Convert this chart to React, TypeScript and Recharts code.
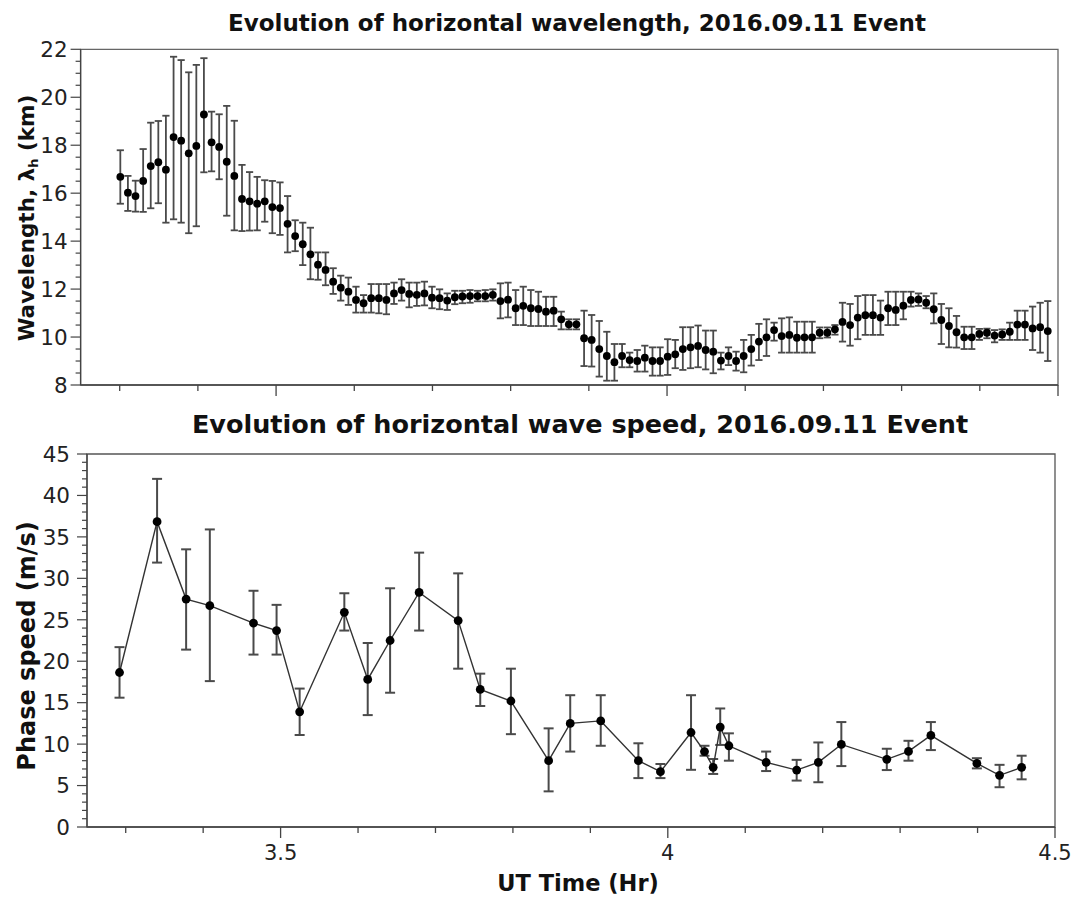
import React from 'react';
import { ScatterChart, Scatter, XAxis, YAxis, ErrorBar, ReferenceArea } from 'recharts';

const FONT = '"DejaVu Sans", Verdana, sans-serif';

// ---- Top chart: horizontal wavelength (km) ----
const wlTimes = [
  3.3008, 3.3105, 3.3202, 3.33, 3.3397, 3.3494, 3.3591, 3.3689, 3.3786, 3.3883,
  3.398, 3.4077, 3.4175, 3.4272, 3.4369, 3.4466, 3.4564, 3.4661, 3.4758, 3.4855,
  3.4952, 3.505, 3.5147, 3.5244, 3.5341, 3.5439, 3.5536, 3.5633, 3.573, 3.5827,
  3.5925, 3.6022, 3.6119, 3.6216, 3.6314, 3.6411, 3.6508, 3.6605, 3.6702, 3.68,
  3.6897, 3.6994, 3.7091, 3.7189, 3.7286, 3.7383, 3.748, 3.7577, 3.7675, 3.7772,
  3.7869, 3.7966, 3.8064, 3.8161, 3.8258, 3.8355, 3.8452, 3.855, 3.8647, 3.8744,
  3.8841, 3.8939, 3.9036, 3.9133, 3.923, 3.9327, 3.9425, 3.9522, 3.9619, 3.9716,
  3.9814, 3.9911, 4.0008, 4.0105, 4.0202, 4.03, 4.0397, 4.0494, 4.0591, 4.0689,
  4.0786, 4.0883, 4.098, 4.1077, 4.1175, 4.1272, 4.1369, 4.1466, 4.1564, 4.1661,
  4.1758, 4.1855, 4.1952, 4.205, 4.2147, 4.2244, 4.2341, 4.2439, 4.2536, 4.2633,
  4.273, 4.2827, 4.2925, 4.3022, 4.3119, 4.3216, 4.3314, 4.3411, 4.3508, 4.3605,
  4.3702, 4.38, 4.3897, 4.3994, 4.4091, 4.4189, 4.4286, 4.4383, 4.448, 4.4577,
  4.4675, 4.4772, 4.4869,
];
const wlValues = [
  16.68, 16.02, 15.88, 16.51, 17.13, 17.29, 16.98, 18.34, 18.19, 17.66,
  17.97, 19.28, 18.12, 17.93, 17.31, 16.72, 15.76, 15.66, 15.56, 15.66,
  15.42, 15.38, 14.72, 14.21, 13.87, 13.45, 13.02, 12.8, 12.31, 12.06,
  11.89, 11.55, 11.41, 11.62, 11.62, 11.55, 11.82, 11.96, 11.8, 11.76,
  11.82, 11.64, 11.62, 11.52, 11.66, 11.69, 11.71, 11.71, 11.71, 11.76,
  11.5, 11.56, 11.2, 11.3, 11.2, 11.17, 11.06, 11.1, 10.74, 10.53,
  10.53, 9.95, 9.88, 9.5, 9.21, 8.95, 9.21, 9.04, 9.0, 9.14,
  9.0, 9.0, 9.18, 9.28, 9.5, 9.57, 9.63, 9.46, 9.39, 9.02,
  9.21, 9.0, 9.21, 9.5, 9.81, 9.99, 10.29, 10.04, 10.09, 9.97,
  9.99, 9.99, 10.18, 10.18, 10.32, 10.63, 10.5, 10.81, 10.91, 10.91,
  10.81, 11.2, 11.13, 11.31, 11.55, 11.57, 11.43, 11.16, 10.71, 10.46,
  10.2, 9.99, 9.99, 10.13, 10.18, 10.06, 10.11, 10.22, 10.52, 10.52,
  10.36, 10.41, 10.25,
];
const wlUpper = [
  17.79, 16.72, 16.52, 17.84, 18.94, 19.01, 19.23, 21.69, 21.55, 21.04,
  21.35, 21.63, 19.4, 19.29, 19.64, 19.02, 17.18, 16.88, 16.68, 16.54,
  16.51, 16.45, 15.88, 14.87, 14.77, 14.56, 13.53, 13.53, 12.87, 12.56,
  12.48, 12.1, 11.75, 12.21, 12.21, 12.21, 12.27, 12.41, 12.27, 12.27,
  12.31, 12.1, 11.99, 11.82, 11.93, 11.93, 11.96, 11.93, 11.96, 11.99,
  12.24, 12.27, 11.96, 12.1, 11.96, 11.89, 11.68, 11.68, 11.06, 10.74,
  10.74, 11.1, 10.92, 10.67, 10.22, 9.71, 9.71, 9.35, 9.46, 9.64,
  9.57, 9.57, 9.91, 9.88, 10.41, 10.41, 10.48, 10.27, 10.27, 9.35,
  9.57, 9.39, 9.88, 10.09, 10.55, 10.74, 10.6, 10.78, 10.82, 10.64,
  10.64, 10.64, 10.4, 10.4, 10.5, 11.43, 11.38, 11.71, 11.75, 11.75,
  11.52, 11.89, 11.89, 11.89, 11.89, 11.82, 11.71, 11.82, 11.38, 11.2,
  10.88, 10.43, 10.43, 10.34, 10.35, 10.29, 10.32, 10.6, 11.1, 11.1,
  11.27, 11.43, 11.5,
];
const wlLower = [
  15.56, 15.26, 15.23, 15.22, 15.37, 15.58, 14.77, 14.91, 14.77, 14.33,
  14.62, 16.87, 16.91, 16.58, 15.06, 14.45, 14.42, 14.44, 14.45, 14.81,
  14.33, 14.26, 13.53, 13.58, 13.0, 12.41, 12.39, 12.16, 11.8, 11.52,
  11.34, 11.02, 11.02, 11.02, 10.99, 10.95, 11.38, 11.52, 11.24, 11.3,
  11.32, 11.2, 11.16, 11.13, 11.37, 11.41, 11.43, 11.49, 11.49, 11.52,
  10.78, 10.82, 10.5, 10.5, 10.46, 10.46, 10.46, 10.46, 10.32, 10.32,
  10.32, 8.79, 8.77, 8.35, 8.18, 8.18, 8.74, 8.74, 8.56, 8.56,
  8.39, 8.39, 8.42, 8.7, 8.63, 8.7, 8.74, 8.65, 8.49, 8.65,
  8.83, 8.6, 8.53, 8.81, 9.04, 9.21, 9.85, 9.35, 9.35, 9.35,
  9.35, 9.35, 9.95, 9.98, 10.1, 9.81, 9.64, 9.91, 10.09, 10.09,
  10.09, 10.5, 10.5, 10.74, 11.27, 11.3, 11.2, 10.57, 9.71, 9.57,
  9.56, 9.5, 9.5, 9.88, 9.95, 9.78, 9.88, 9.88, 9.88, 9.88,
  9.46, 9.35, 9.0,
];

// ---- Bottom chart: phase speed (m/s) ----
const spTimes = [
  3.292, 3.3405, 3.378, 3.4086, 3.465, 3.4948, 3.5246, 3.5823, 3.6125, 3.6414,
  3.6789, 3.7293, 3.7578, 3.7974, 3.8461, 3.874, 3.9134, 3.962, 3.9905, 4.03,
  4.0474, 4.0586, 4.0677, 4.0789, 4.127, 4.1664, 4.1944, 4.2241, 4.2828, 4.3108,
  4.3397, 4.3991, 4.4284, 4.4569,
];
const spValues = [
  18.64, 36.84, 27.5, 26.7, 24.6, 23.7, 13.9, 25.9, 17.8, 22.5,
  28.3, 24.9, 16.6, 15.2, 8.0, 12.5, 12.8, 8.0, 6.67, 11.4,
  9.1, 7.2, 12.05, 9.8, 7.8, 6.87, 7.8, 9.96, 8.16, 9.12,
  11.05, 7.67, 6.23, 7.2,
];
const spUpper = [
  21.7, 42.0, 33.5, 35.9, 28.5, 26.8, 16.7, 28.2, 22.2, 28.8,
  33.1, 30.6, 18.5, 19.1, 11.9, 15.9, 15.9, 10.1, 7.6, 15.9,
  9.8, 8.2, 14.3, 11.3, 9.1, 8.1, 10.2, 12.66, 9.44, 10.4,
  12.66, 8.3, 7.5, 8.6,
];
const spLower = [
  15.6, 31.9, 21.4, 17.6, 20.8, 20.8, 11.1, 23.7, 13.5, 16.2,
  23.7, 19.1, 14.6, 11.2, 4.3, 9.1, 9.8, 5.9, 5.9, 6.9,
  8.6, 6.4, 9.9, 8.0, 6.75, 5.6, 5.4, 7.35, 6.87, 8.0,
  9.28, 7.07, 4.8, 5.75,
];

// ---- Ticks ----
const timeTicks = [3.3, 3.4, 3.5, 3.6, 3.7, 3.8, 3.9, 4.0, 4.1, 4.2, 4.3, 4.4, 4.5];
const timeMajor = [3.5, 4.0, 4.5];
const timeLabels = ['3.5', '4', '4.5'];
const wlTicks = [
  8, 8.5, 9, 9.5, 10, 10.5, 11, 11.5, 12, 12.5, 13, 13.5, 14, 14.5, 15,
  15.5, 16, 16.5, 17, 17.5, 18, 18.5, 19, 19.5, 20, 20.5, 21, 21.5, 22,
];
const wlMajor = [8, 10, 12, 14, 16, 18, 20, 22];
const spTicks = [
  0, 1, 2, 3, 4, 5, 6, 7, 8, 9, 10, 11, 12, 13, 14, 15, 16, 17, 18, 19, 20, 21, 22,
  23, 24, 25, 26, 27, 28, 29, 30, 31, 32, 33, 34, 35, 36, 37, 38, 39, 40, 41, 42, 43, 44, 45,
];
const spMajor = [0, 5, 10, 15, 20, 25, 30, 35, 40, 45];

const topTitle = 'Evolution of horizontal wavelength, 2016.09.11 Event';
const bottomTitle = 'Evolution of horizontal wave speed, 2016.09.11 Event';
const xTitle = 'UT Time (Hr)';

const wlData = wlTimes.map((t, i) => ({
  t,
  v: wlValues[i],
  err: [wlValues[i] - wlLower[i], wlUpper[i] - wlValues[i]],
}));
const spData = spTimes.map((t, i) => ({
  t,
  v: spValues[i],
  err: [spValues[i] - spLower[i], spUpper[i] - spValues[i]],
}));

const AX = '#444';
const near = (a: number, b: number) => Math.abs(a - b) < 1e-6;

const makeXTick = (showLabels: boolean) => (props: any) => {
  const { x, y, payload } = props;
  const val = payload.value;
  const mi = timeMajor.findIndex((m) => near(m, val));
  const major = mi >= 0;
  return (
    <g>
      <line x1={x} x2={x} y1={y} y2={y + (major ? 11 : 6)} stroke={AX} strokeWidth={1.3} />
      {showLabels && major && (
        <text x={x} y={y + 33} textAnchor="middle" fontFamily={FONT} fontSize={21} fill="#222">
          {timeLabels[mi]}
        </text>
      )}
    </g>
  );
};

const makeYTick = (majors: number[], labelGap: number) => (props: any) => {
  const { x, y, payload } = props;
  const val = payload.value;
  const major = majors.some((m) => near(m, val));
  return (
    <g>
      <line x1={x} x2={x - (major ? 10 : 5)} y1={y} y2={y} stroke={AX} strokeWidth={1.2} />
      {major && (
        <text x={x - labelGap} y={y} dy="0.36em" textAnchor="end" fontFamily={FONT} fontSize={21.5} fill="#222">
          {String(val)}
        </text>
      )}
    </g>
  );
};

const Dot = (r: number) => (props: any) => <circle cx={props.cx} cy={props.cy} r={r} fill="#000" />;

export default function App() {
  return (
    <div style={{ position: 'absolute', left: 0, top: 0, width: 1075, height: 902, background: '#fff' }}>
      <div style={{ position: 'absolute', left: 0, top: 0 }}>
        <ScatterChart width={1075} height={400} margin={{ top: 49.3, right: 17, bottom: 5, left: 0 }}>
          <XAxis
            type="number"
            dataKey="t"
            domain={[3.25, 4.5]}
            ticks={timeTicks}
            interval={0}
            height={10}
            tickSize={0}
            tickMargin={0}
            tickLine={false}
            tick={makeXTick(false)}
            axisLine={{ stroke: AX, strokeWidth: 1.3 }}
            allowDataOverflow
          />
          <YAxis
            type="number"
            dataKey="v"
            domain={[8, 22]}
            ticks={wlTicks}
            interval={0}
            width={80.6}
            tickSize={0}
            tickMargin={0}
            tickLine={false}
            tick={makeYTick(wlMajor, 13)}
            axisLine={{ stroke: AX, strokeWidth: 1.3 }}
            allowDataOverflow
          />
          <ReferenceArea x1={3.25} x2={4.5} y1={8} y2={22} fill="none" stroke="#666" strokeWidth={1.3} />
          <Scatter data={wlData} shape={Dot(3.9)} isAnimationActive={false}>
            <ErrorBar dataKey="err" direction="y" width={3.6} stroke="#4a4a4a" strokeWidth={1.8} isAnimationActive={false} />
          </Scatter>
        </ScatterChart>
      </div>
      <div style={{ position: 'absolute', left: 0, top: 400 }}>
        <ScatterChart width={1075} height={502} margin={{ top: 54, right: 20, bottom: 0, left: 0 }}>
          <XAxis
            type="number"
            dataKey="t"
            domain={[3.25, 4.5]}
            ticks={timeTicks}
            interval={0}
            height={75}
            tickSize={0}
            tickMargin={0}
            tickLine={false}
            tick={makeXTick(true)}
            axisLine={{ stroke: AX, strokeWidth: 1.3 }}
            allowDataOverflow
          />
          <YAxis
            type="number"
            dataKey="v"
            domain={[0, 45]}
            ticks={spTicks}
            interval={0}
            width={87}
            tickSize={0}
            tickMargin={0}
            tickLine={false}
            tick={makeYTick(spMajor, 17)}
            axisLine={{ stroke: AX, strokeWidth: 1.3 }}
            allowDataOverflow
          />
          <ReferenceArea x1={3.25} x2={4.5} y1={0} y2={45} fill="none" stroke="#555" strokeWidth={1.3} />
          <Scatter
            data={spData}
            shape={Dot(4.4)}
            line={{ stroke: '#333', strokeWidth: 1.4 }}
            lineType="joint"
            isAnimationActive={false}
          >
            <ErrorBar dataKey="err" direction="y" width={5} stroke="#4a4a4a" strokeWidth={2} isAnimationActive={false} />
          </Scatter>
        </ScatterChart>
      </div>
      <svg
        width={1075}
        height={902}
        style={{ position: 'absolute', left: 0, top: 0, pointerEvents: 'none' }}
      >
        <text x={577} y={31} textAnchor="middle" fontFamily={FONT} fontWeight="bold" fontSize={23} fill="#111">
          {topTitle}
        </text>
        <text x={580} y={433} textAnchor="middle" fontFamily={FONT} fontWeight="bold" fontSize={25.5} fill="#111">
          {bottomTitle}
        </text>
        <text
          transform="translate(34, 218) rotate(-90)"
          textAnchor="middle"
          fontFamily={FONT}
          fontWeight="bold"
          fontSize={21.5}
          fill="#111"
        >
          <tspan>Wavelength, λ</tspan>
          <tspan fontSize={13} dy={4}>h</tspan>
          <tspan dy={-4}> (km)</tspan>
        </text>
        <text
          transform="translate(35, 646) rotate(-90)"
          textAnchor="middle"
          fontFamily={FONT}
          fontWeight="bold"
          fontSize={24}
          fill="#111"
        >
          Phase speed (m/s)
        </text>
        <text x={578} y={891} textAnchor="middle" fontFamily={FONT} fontWeight="bold" fontSize={22.5} fill="#111">
          {xTitle}
        </text>
      </svg>
    </div>
  );
}
